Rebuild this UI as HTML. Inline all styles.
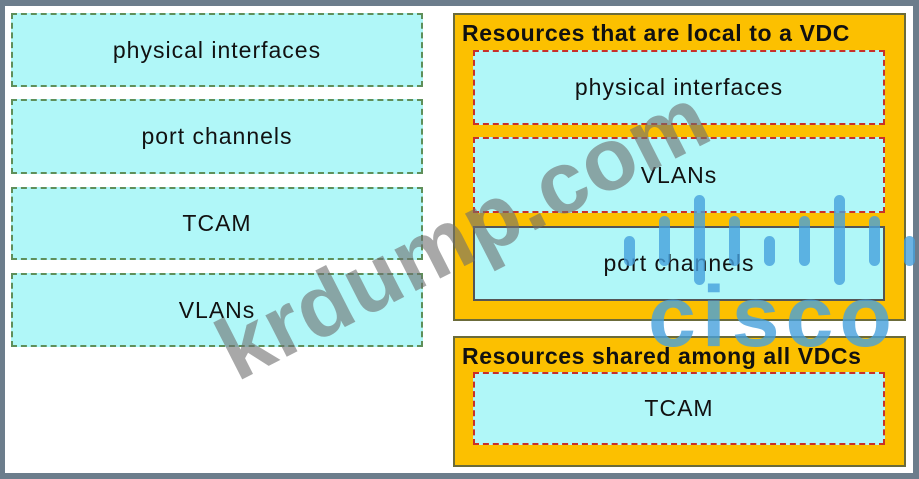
<!DOCTYPE html>
<html><head><style>
body{margin:0;width:919px;height:479px;overflow:hidden;font-family:"Liberation Sans",sans-serif}
.frame{position:absolute;left:0;top:0;width:919px;height:479px;background:#6c7d8c}
.in{position:absolute;left:5px;top:6px;width:908px;height:467px;background:#fff}
.b{position:absolute;background:#b0f7f8;border:2px dashed #5f8f5a;box-sizing:border-box;display:flex;align-items:center;justify-content:center;font-size:23px;letter-spacing:1px;color:#111}
.r{border-color:#c8302a}
.y{position:absolute;background:#fcc000;border:2px solid #6b6b3a;box-sizing:border-box}
.t{position:absolute;font-weight:bold;font-size:23px;letter-spacing:0.6px;color:#111;white-space:nowrap}
.wm{position:absolute;font-weight:bold;font-size:88px;color:rgba(110,110,110,0.6);transform-origin:0 0;transform:rotate(-27deg);left:200px;top:310px;white-space:nowrap;letter-spacing:1px}
.bar{position:absolute;width:11px;border-radius:6px;background:rgba(70,160,220,0.8)}
.cs{position:absolute;left:648px;top:268px;font-size:86px;font-weight:bold;color:rgba(70,160,220,0.8);letter-spacing:6px}
</style></head><body>
<div class="frame"></div><div class="in"></div>
<div class="b" style="left:11px;top:13px;width:412px;height:74px">physical interfaces</div>
<div class="b" style="left:11px;top:99px;width:412px;height:75px">port channels</div>
<div class="b" style="left:11px;top:187px;width:412px;height:73px">TCAM</div>
<div class="b" style="left:11px;top:273px;width:412px;height:74px">VLANs</div>
<div class="y" style="left:453px;top:13px;width:453px;height:308px"></div>
<div class="t" style="left:462px;top:20px">Resources that are local to a VDC</div>
<div class="b r" style="left:473px;top:50px;width:412px;height:75px">physical interfaces</div>
<div class="b r" style="left:473px;top:137px;width:412px;height:76px">VLANs</div>
<div class="b" style="left:473px;top:226px;width:412px;height:75px;border-style:solid;border-color:#555">port channels</div>
<div class="y" style="left:453px;top:336px;width:453px;height:131px"></div>
<div class="t" style="left:462px;top:343px">Resources shared among all VDCs</div>
<div class="b r" style="left:473px;top:372px;width:412px;height:73px">TCAM</div>
<div class="wm">krdump.com</div>
<div class="bar" style="left:624px;top:236px;height:30px"></div>
<div class="bar" style="left:659px;top:216px;height:50px"></div>
<div class="bar" style="left:694px;top:195px;height:90px"></div>
<div class="bar" style="left:729px;top:216px;height:50px"></div>
<div class="bar" style="left:764px;top:236px;height:30px"></div>
<div class="bar" style="left:799px;top:216px;height:50px"></div>
<div class="bar" style="left:834px;top:195px;height:90px"></div>
<div class="bar" style="left:869px;top:216px;height:50px"></div>
<div class="bar" style="left:904px;top:236px;height:30px"></div>
<div class="cs">cisco</div>
</body></html>
